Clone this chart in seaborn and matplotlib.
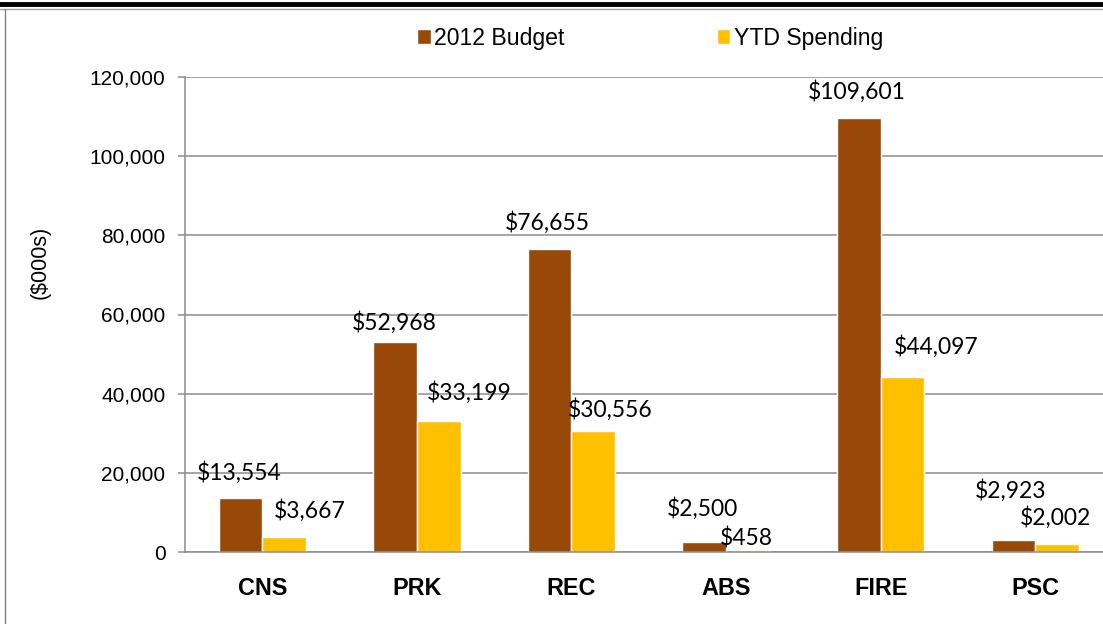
import numpy as np
import pandas as pd
import matplotlib
matplotlib.use("Agg")
import matplotlib.pyplot as plt
from matplotlib.lines import Line2D
from matplotlib.ticker import FuncFormatter
import seaborn as sns

# Data
categories = ["CNS", "PRK", "REC", "ABS", "FIRE", "PSC"]
series_names = ["2012 Budget", "YTD Spending"]
budget_2012 = [13554, 52968, 76655, 2500, 109601, 2923]
ytd_spending = [3667, 33199, 30556, 458, 44097, 2002]
y_ticks = [0, 20000, 40000, 60000, 80000, 100000, 120000]
y_label = "($000s)"

# Styling
colors = ["#984807", "#FFC000"]
grid_color = "#8c8c8c"
# label offset from the top-centre of each bar, in pixels (dx, dy up)
budget_offsets = [(-1, 26), (-1, 20), (-2, 26), (-2, 34), (-2, 27), (-3, 50)]
ytd_offsets = [(26, 27), (30, 28), (17, 22), (-2, 12), (34, 31), (-2, 27)]

df = pd.DataFrame({
    "cat": categories * 2,
    "series": [series_names[0]] * len(categories) + [series_names[1]] * len(categories),
    "value": budget_2012 + ytd_spending,
})

sns.set_style("white")
plt.rcParams["font.family"] = ["Liberation Sans", "DejaVu Sans"]
plt.rcParams.update({"text.color": "black", "xtick.color": "black",
                     "ytick.color": "black", "axes.labelcolor": "black"})

W, H = 1103, 624
fig = plt.figure(figsize=(W / 100, H / 100), dpi=100)
ax = fig.add_axes([185 / W, 1 - 552 / H, 927.6 / W, 475 / H])

sns.barplot(data=df, x="cat", y="value", hue="series", palette=colors,
            width=0.566, saturation=1, ax=ax, legend=True)

# Axes
ax.set_ylim(0, 120000)
ax.set_xlim(-0.5, len(categories) - 0.5)
ax.set_yticks(y_ticks)
ax.yaxis.set_major_formatter(FuncFormatter(lambda v, p: f"{v:,.0f}"))
ax.yaxis.grid(True, color=grid_color, lw=1.1)
ax.set_axisbelow(True)
ax.set_xlabel("")
ax.set_ylabel("")
ax.set_xticks(range(len(categories)), labels=categories, fontweight="bold", fontsize=16.8)
ax.set_xticks(np.arange(-0.5, len(categories)), minor=True)
ax.tick_params(axis="x", which="major", length=0, pad=18)
ax.tick_params(axis="x", which="minor", length=6, color=grid_color, width=1.1, direction="out")
ax.tick_params(axis="y", length=5, color=grid_color, width=1.1, direction="out",
               left=True, labelsize=15, pad=9)
for s in ["top", "right"]:
    ax.spines[s].set_visible(False)
for s in ["left", "bottom"]:
    ax.spines[s].set_color(grid_color)
    ax.spines[s].set_linewidth(1.1)

fig.text(40 / W, 1 - 262 / H, y_label, rotation=90, ha="center", va="center", fontsize=15.5)

# Data labels
for cont, offs in zip(ax.containers, [budget_offsets, ytd_offsets]):
    for bar, (dx, dy) in zip(cont, offs):
        x = bar.get_x() + bar.get_width() / 2
        y = bar.get_height()
        ax.annotate(f"${y:,.0f}", (x, y), xytext=(dx * 0.72, dy * 0.72),
                    textcoords="offset points", ha="center", va="center",
                    fontsize=16.5, family=["Lato", "DejaVu Sans"], annotation_clip=False)

# Legend
sns.move_legend(ax, "center", bbox_to_anchor=(650 / W, 1 - 38 / H),
                bbox_transform=fig.transFigure, ncol=2, frameon=False, title=None,
                fontsize=16.6, handlelength=0.6, handleheight=0.6, handletextpad=0.15,
                columnspacing=6.6)

# Frame
fig.add_artist(Line2D([0, 1], [1 - 3.5 / H] * 2, transform=fig.transFigure, color="black", lw=3.5))
fig.add_artist(Line2D([0, 1], [1 - 9 / H] * 2, transform=fig.transFigure, color="#a0a0a0", lw=1))
fig.add_artist(Line2D([5 / W] * 2, [0, 1 - 9 / H], transform=fig.transFigure, color="#808080", lw=1))

fig.savefig("out.png", dpi=100)
